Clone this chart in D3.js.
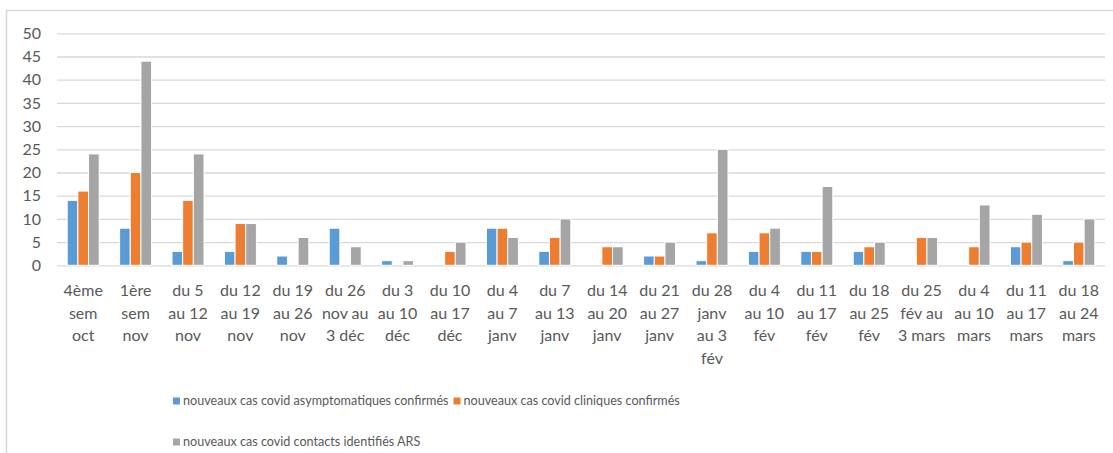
<!DOCTYPE html>
<html>
<head>
<meta charset="utf-8">
<script src="https://cdn.jsdelivr.net/npm/d3@7"></script>
<style>
  body { margin: 0; background: #fff; }
  text { font-family: Lato, "Open Sans", sans-serif; fill: #595959; }
</style>
</head>
<body>
<script>
// category labels, already split the way the chart wraps them
var categories = [
  ["4ème", "sem", "oct"],
  ["1ère", "sem", "nov"],
  ["du 5", "au 12", "nov"],
  ["du 12", "au 19", "nov"],
  ["du 19", "au 26", "nov"],
  ["du 26", "nov au", "3 déc"],
  ["du 3", "au 10", "déc"],
  ["du 10", "au 17", "déc"],
  ["du 4", "au 7", "janv"],
  ["du 7", "au 13", "janv"],
  ["du 14", "au 20", "janv"],
  ["du 21", "au 27", "janv"],
  ["du 28", "janv", "au 3", "fév"],
  ["du 4", "au 10", "fév"],
  ["du 11", "au 17", "fév"],
  ["du 18", "au 25", "fév"],
  ["du 25", "fév au", "3 mars"],
  ["du 4", "au 10", "mars"],
  ["du 11", "au 17", "mars"],
  ["du 18", "au 24", "mars"]
];

var seriesNames = [
  "nouveaux cas covid asymptomatiques confirmés",
  "nouveaux cas covid cliniques confirmés",
  "nouveaux cas covid contacts identifiés ARS"
];

var asymptomatiques = [14, 8, 3, 3, 2, 8, 1, 0, 8, 3, 0, 2, 1, 3, 3, 3, 0, 0, 4, 1];
var cliniques       = [16, 20, 14, 9, 0, 0, 0, 3, 8, 6, 4, 2, 7, 7, 3, 4, 6, 4, 5, 5];
var contacts        = [24, 44, 24, 9, 6, 4, 1, 5, 6, 10, 4, 5, 25, 8, 17, 5, 6, 13, 11, 10];

var yTicks = [0, 5, 10, 15, 20, 25, 30, 35, 40, 45, 50];
var colors = ["#5b9bd5", "#ed7d31", "#a5a5a5"];

var width = 1113,
    height = 453;

var seriesValues = [asymptomatiques, cliniques, contacts];
var rows = categories.map(function(c, i) {
  return { i: i, label: c, values: seriesValues.map(function(s) { return s[i]; }) };
});

var svg = d3.select("body").append("svg")
  .attr("width", width)
  .attr("height", height);

// chart frame (only the left and top edges show in the picture)
svg.append("path")
  .attr("d", "M6.5," + height + "V10.5H" + width)
  .attr("fill", "none")
  .attr("stroke", "#d9d9d9")
  .attr("stroke-width", 1.5);

var x = d3.scaleBand()
  .domain(d3.range(categories.length))
  .range([57, 1105])
  .padding(0);

var groupW = 32;
var xs = d3.scaleBand()
  .domain(d3.range(seriesNames.length))
  .range([(x.bandwidth() - groupW) / 2, (x.bandwidth() + groupW) / 2])
  .padding(0);

var y = d3.scaleLinear()
  .domain([0, 50])
  .range([265.3, 33.3]);

// gridlines + y labels
var yAxis = d3.axisLeft(y)
  .tickValues(yTicks)
  .tickSize(-(x.range()[1] - x.range()[0]))
  .tickPadding(16);

var gy = svg.append("g")
  .attr("transform", "translate(" + x.range()[0] + ",0)")
  .call(yAxis);
gy.select(".domain").remove();
gy.selectAll("line")
  .attr("stroke", "#d9d9d9")
  .attr("stroke-width", 1.3);
gy.selectAll("text")
  .style("font-size", "16px")
  .style("font-family", "Lato, sans-serif")
  .attr("fill", "#595959");

// bars
var groups = svg.selectAll("g.cat")
  .data(rows)
  .enter().append("g")
  .attr("class", "cat")
  .attr("transform", function(d) { return "translate(" + x(d.i) + ",0)"; });

groups.selectAll("rect")
  .data(function(d) { return d.values.map(function(v, k) { return { k: k, v: v }; }); })
  .enter().append("rect")
  .filter(function(d) { return d.v > 0; })
  .attr("x", function(d) { return xs(d.k); })
  .attr("y", function(d) { return y(d.v); })
  .attr("width", xs.bandwidth())
  .attr("height", function(d) { return y(0) - y(d.v); })
  .attr("fill", function(d) { return colors[d.k]; })
  .attr("stroke", "#fff")
  .attr("stroke-width", 1);

// category labels
var lineH = 22.5;
groups.append("text")
  .attr("text-anchor", "middle")
  .style("font-size", "16px")
  .selectAll("tspan")
  .data(function(d) { return d.label; })
  .enter().append("tspan")
  .attr("x", x.bandwidth() / 2)
  .attr("y", function(d, j) { return 296 + j * lineH; })
  .text(function(d) { return d; });

// legend: two entries on the first row, one on the second
var legendRows = [[0, 1], [2]];
var legX = 173, legY = [401, 442];

legendRows.forEach(function(row, r) {
  var cx = legX;
  row.forEach(function(k) {
    var g = svg.append("g")
      .attr("class", "legend")
      .attr("transform", "translate(" + cx + "," + legY[r] + ")");
    g.append("rect")
      .attr("x", 0)
      .attr("y", -3.5)
      .attr("width", 7)
      .attr("height", 7)
      .attr("fill", colors[k]);
    var t = g.append("text")
      .attr("x", 10)
      .attr("dy", "0.35em")
      .style("font-size", "12.6px")
      .text(seriesNames[k]);
    cx += 10 + t.node().getComputedTextLength() + 5;
  });
});
</script>
</body>
</html>
